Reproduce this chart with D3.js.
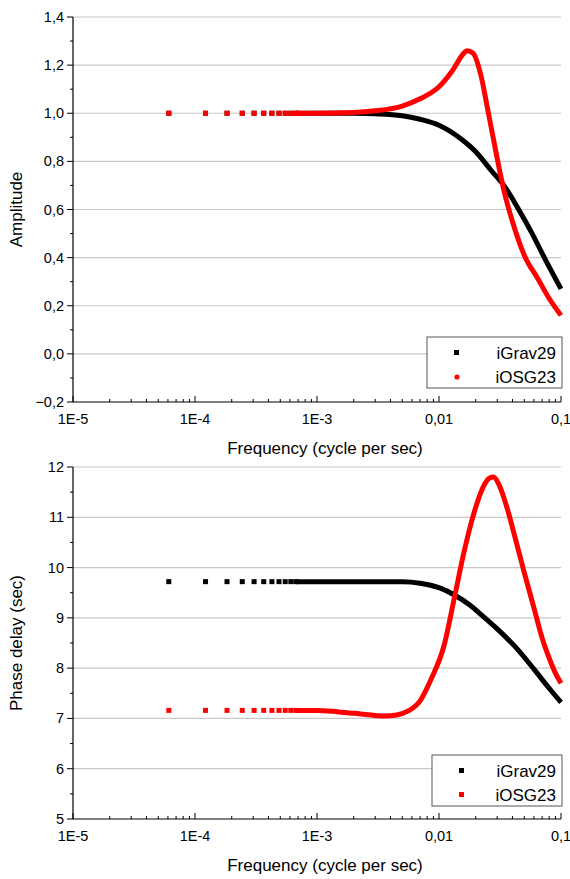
<!DOCTYPE html>
<html><head><meta charset="utf-8">
<script src="https://cdnjs.cloudflare.com/ajax/libs/d3/7.8.5/d3.min.js"></script>
<style>body{margin:0;background:#fff}svg{font-family:"Liberation Sans",Arial,sans-serif}</style>
</head><body><svg width="570" height="879"></svg>
<script>
// low-frequency discrete samples (shared)
var lowFreq = [6.1e-5, 1.22e-4, 1.83e-4, 2.44e-4, 3.05e-4, 3.66e-4, 4.27e-4, 4.88e-4, 5.49e-4, 6.1e-4, 6.7e-4];
// amplitude
var ampFreqG = [6.7e-4, 1e-3, 2e-3, 3e-3, 5e-3, 7e-3, 0.01, 0.015, 0.02, 0.027, 0.034, 0.045, 0.058, 0.073, 0.1];
var ampG = [1.0, 1.0, 1.0, 0.998, 0.99, 0.975, 0.95, 0.895, 0.84, 0.76, 0.70, 0.60, 0.50, 0.40, 0.27];
var ampFreqO = [6.7e-4, 1e-3, 2e-3, 3e-3, 5e-3, 7e-3, 0.01, 0.013, 0.016, 0.017, 0.019, 0.022, 0.025, 0.029, 0.034, 0.04, 0.05, 0.065, 0.08, 0.1];
var ampO = [1.0, 1.0, 1.003, 1.01, 1.03, 1.06, 1.11, 1.18, 1.25, 1.26, 1.25, 1.16, 1.02, 0.85, 0.68, 0.55, 0.41, 0.31, 0.23, 0.16];
var ampLowG = 1.0, ampLowO = 1.0;
// phase
var phFreqG = [6.7e-4, 1e-3, 3e-3, 5e-3, 7e-3, 0.01, 0.0135, 0.018, 0.022, 0.03, 0.045, 0.06, 0.08, 0.1];
var phG = [9.72, 9.72, 9.72, 9.72, 9.69, 9.6, 9.45, 9.25, 9.07, 8.78, 8.35, 7.98, 7.6, 7.32];
var phFreqO = [6.7e-4, 1e-3, 1.5e-3, 2.5e-3, 3.5e-3, 4.5e-3, 5.5e-3, 7e-3, 8.5e-3, 0.011, 0.0135, 0.016, 0.02, 0.023, 0.026, 0.028, 0.031, 0.036, 0.042, 0.05, 0.06, 0.07, 0.08, 0.09, 0.1];
var phO = [7.16, 7.16, 7.13, 7.08, 7.05, 7.07, 7.14, 7.35, 7.75, 8.45, 9.45, 10.3, 11.2, 11.6, 11.78, 11.8, 11.65, 11.2, 10.6, 9.9, 9.2, 8.6, 8.2, 7.9, 7.7];
var phLowG = 9.72, phLowO = 7.16;
var xTicks = [1e-5, 1e-4, 1e-3, 0.01, 0.1];
var xTickLabels = ["1E-5", "1E-4", "1E-3", "0,01", "0,1"];
var names = ["iGrav29", "iOSG23"];
var colors = ["#000", "#f00"];

var svg = d3.select("svg");
var fmt = function (d) { return d3.format(".1f")(d).replace(".", ","); };

function panel(top, bottom, yDomain, yStep, yLabel, yFmt, series, lows, shapes, legendX, legendY) {
    var x = d3.scaleLog().domain([1e-5, 0.1]).range([73, 561]);
    var y = d3.scaleLinear().domain(yDomain).range([bottom, top]);
    var g = svg.append("g");
    var majors = d3.range(yDomain[0], yDomain[1] + yStep / 2, yStep);
    // grid
    g.selectAll(".grid").data(majors.slice(1)).enter().append("line")
        .attr("x1", 73).attr("x2", 561).attr("y1", y).attr("y2", y)
        .attr("stroke", "#c8c8c8").attr("stroke-width", 1.2);
    // minor y ticks
    g.selectAll(".ym").data(d3.range(yDomain[0] + yStep / 2, yDomain[1], yStep)).enter().append("line")
        .attr("x1", 70).attr("x2", 73).attr("y1", y).attr("y2", y).attr("stroke", "#000");
    g.selectAll(".yM").data(majors).enter().append("line")
        .attr("x1", 67).attr("x2", 73).attr("y1", y).attr("y2", y).attr("stroke", "#000");
    g.selectAll(".yl").data(majors).enter().append("text")
        .attr("x", 64).attr("y", function (d) { return y(d) + 5; })
        .attr("text-anchor", "end").attr("font-size", 14.5).text(yFmt);
    // x ticks (inward)
    var minors = [];
    [1e-5, 1e-4, 1e-3, 0.01].forEach(function (b) { for (var k = 2; k <= 9; k++) minors.push(b * k); });
    g.selectAll(".xm").data(minors).enter().append("line")
        .attr("x1", x).attr("x2", x).attr("y1", bottom).attr("y2", bottom - 3).attr("stroke", "#000");
    g.selectAll(".xM").data(xTicks).enter().append("line")
        .attr("x1", x).attr("x2", x).attr("y1", bottom).attr("y2", bottom - 6).attr("stroke", "#000");
    g.selectAll(".xl").data(xTicks).enter().append("text")
        .attr("x", x).attr("y", bottom + 22).attr("text-anchor", "middle").attr("font-size", 14.5)
        .text(function (d, i) { return xTickLabels[i]; });
    g.append("line").attr("x1", 73).attr("x2", 561).attr("y1", bottom).attr("y2", bottom).attr("stroke", "#000").attr("stroke-width", 1.2);
    g.append("line").attr("x1", 73).attr("x2", 73).attr("y1", top).attr("y2", bottom).attr("stroke", "#000").attr("stroke-width", 1.2);
    g.append("text").attr("x", 325).attr("y", bottom + 52).attr("text-anchor", "middle").attr("font-size", 17)
        .text("Frequency (cycle per sec)");
    g.append("text").attr("transform", "translate(22," + ((top + bottom) / 2) + ") rotate(-90)")
        .attr("text-anchor", "middle").attr("font-size", 17).text(yLabel);
    // series
    var line = d3.line().x(function (d) { return x(d[0]); }).y(function (d) { return y(d[1]); }).curve(d3.curveMonotoneX);
    series.forEach(function (s, i) {
        g.append("path").datum(d3.zip(s[0], s[1])).attr("d", line)
            .attr("fill", "none").attr("stroke", colors[i]).attr("stroke-width", 5).attr("stroke-linejoin", "round");
        g.selectAll(".p" + i).data(lowFreq).enter().append("rect")
            .attr("x", function (d) { return x(d) - 2.5; }).attr("y", y(lows[i]) - 2.5)
            .attr("width", 5).attr("height", 5).attr("fill", colors[i]);
    });
    // legend
    var lg = g.append("g").attr("transform", "translate(" + legendX + "," + legendY + ")");
    lg.append("rect").attr("width", 562 - legendX).attr("height", 51).attr("fill", "#fff").attr("stroke", "#555");
    names.forEach(function (n, i) {
        if (shapes[i] === "sq") lg.append("rect").attr("x", 27).attr("y", 13 + i * 24).attr("width", 5).attr("height", 5).attr("fill", colors[i]);
        else lg.append("circle").attr("cx", 30).attr("cy", 16 + i * 24).attr("r", 2.6).attr("fill", colors[i]);
        lg.append("text").attr("x", 562 - legendX - 6).attr("y", 22 + i * 24).attr("text-anchor", "end")
            .attr("font-size", 17).text(n);
    });
}

panel(17, 402, [-0.2, 1.4], 0.2, "Amplitude", fmt,
    [[ampFreqG, ampG], [ampFreqO, ampO]], [ampLowG, ampLowO], ["sq", "ci"], 427, 337);
panel(467, 819, [5, 12], 1, "Phase delay (sec)", function (d) { return d; },
    [[phFreqG, phG], [phFreqO, phO]], [phLowG, phLowO], ["sq", "sq"], 432, 755);
</script></body></html>
